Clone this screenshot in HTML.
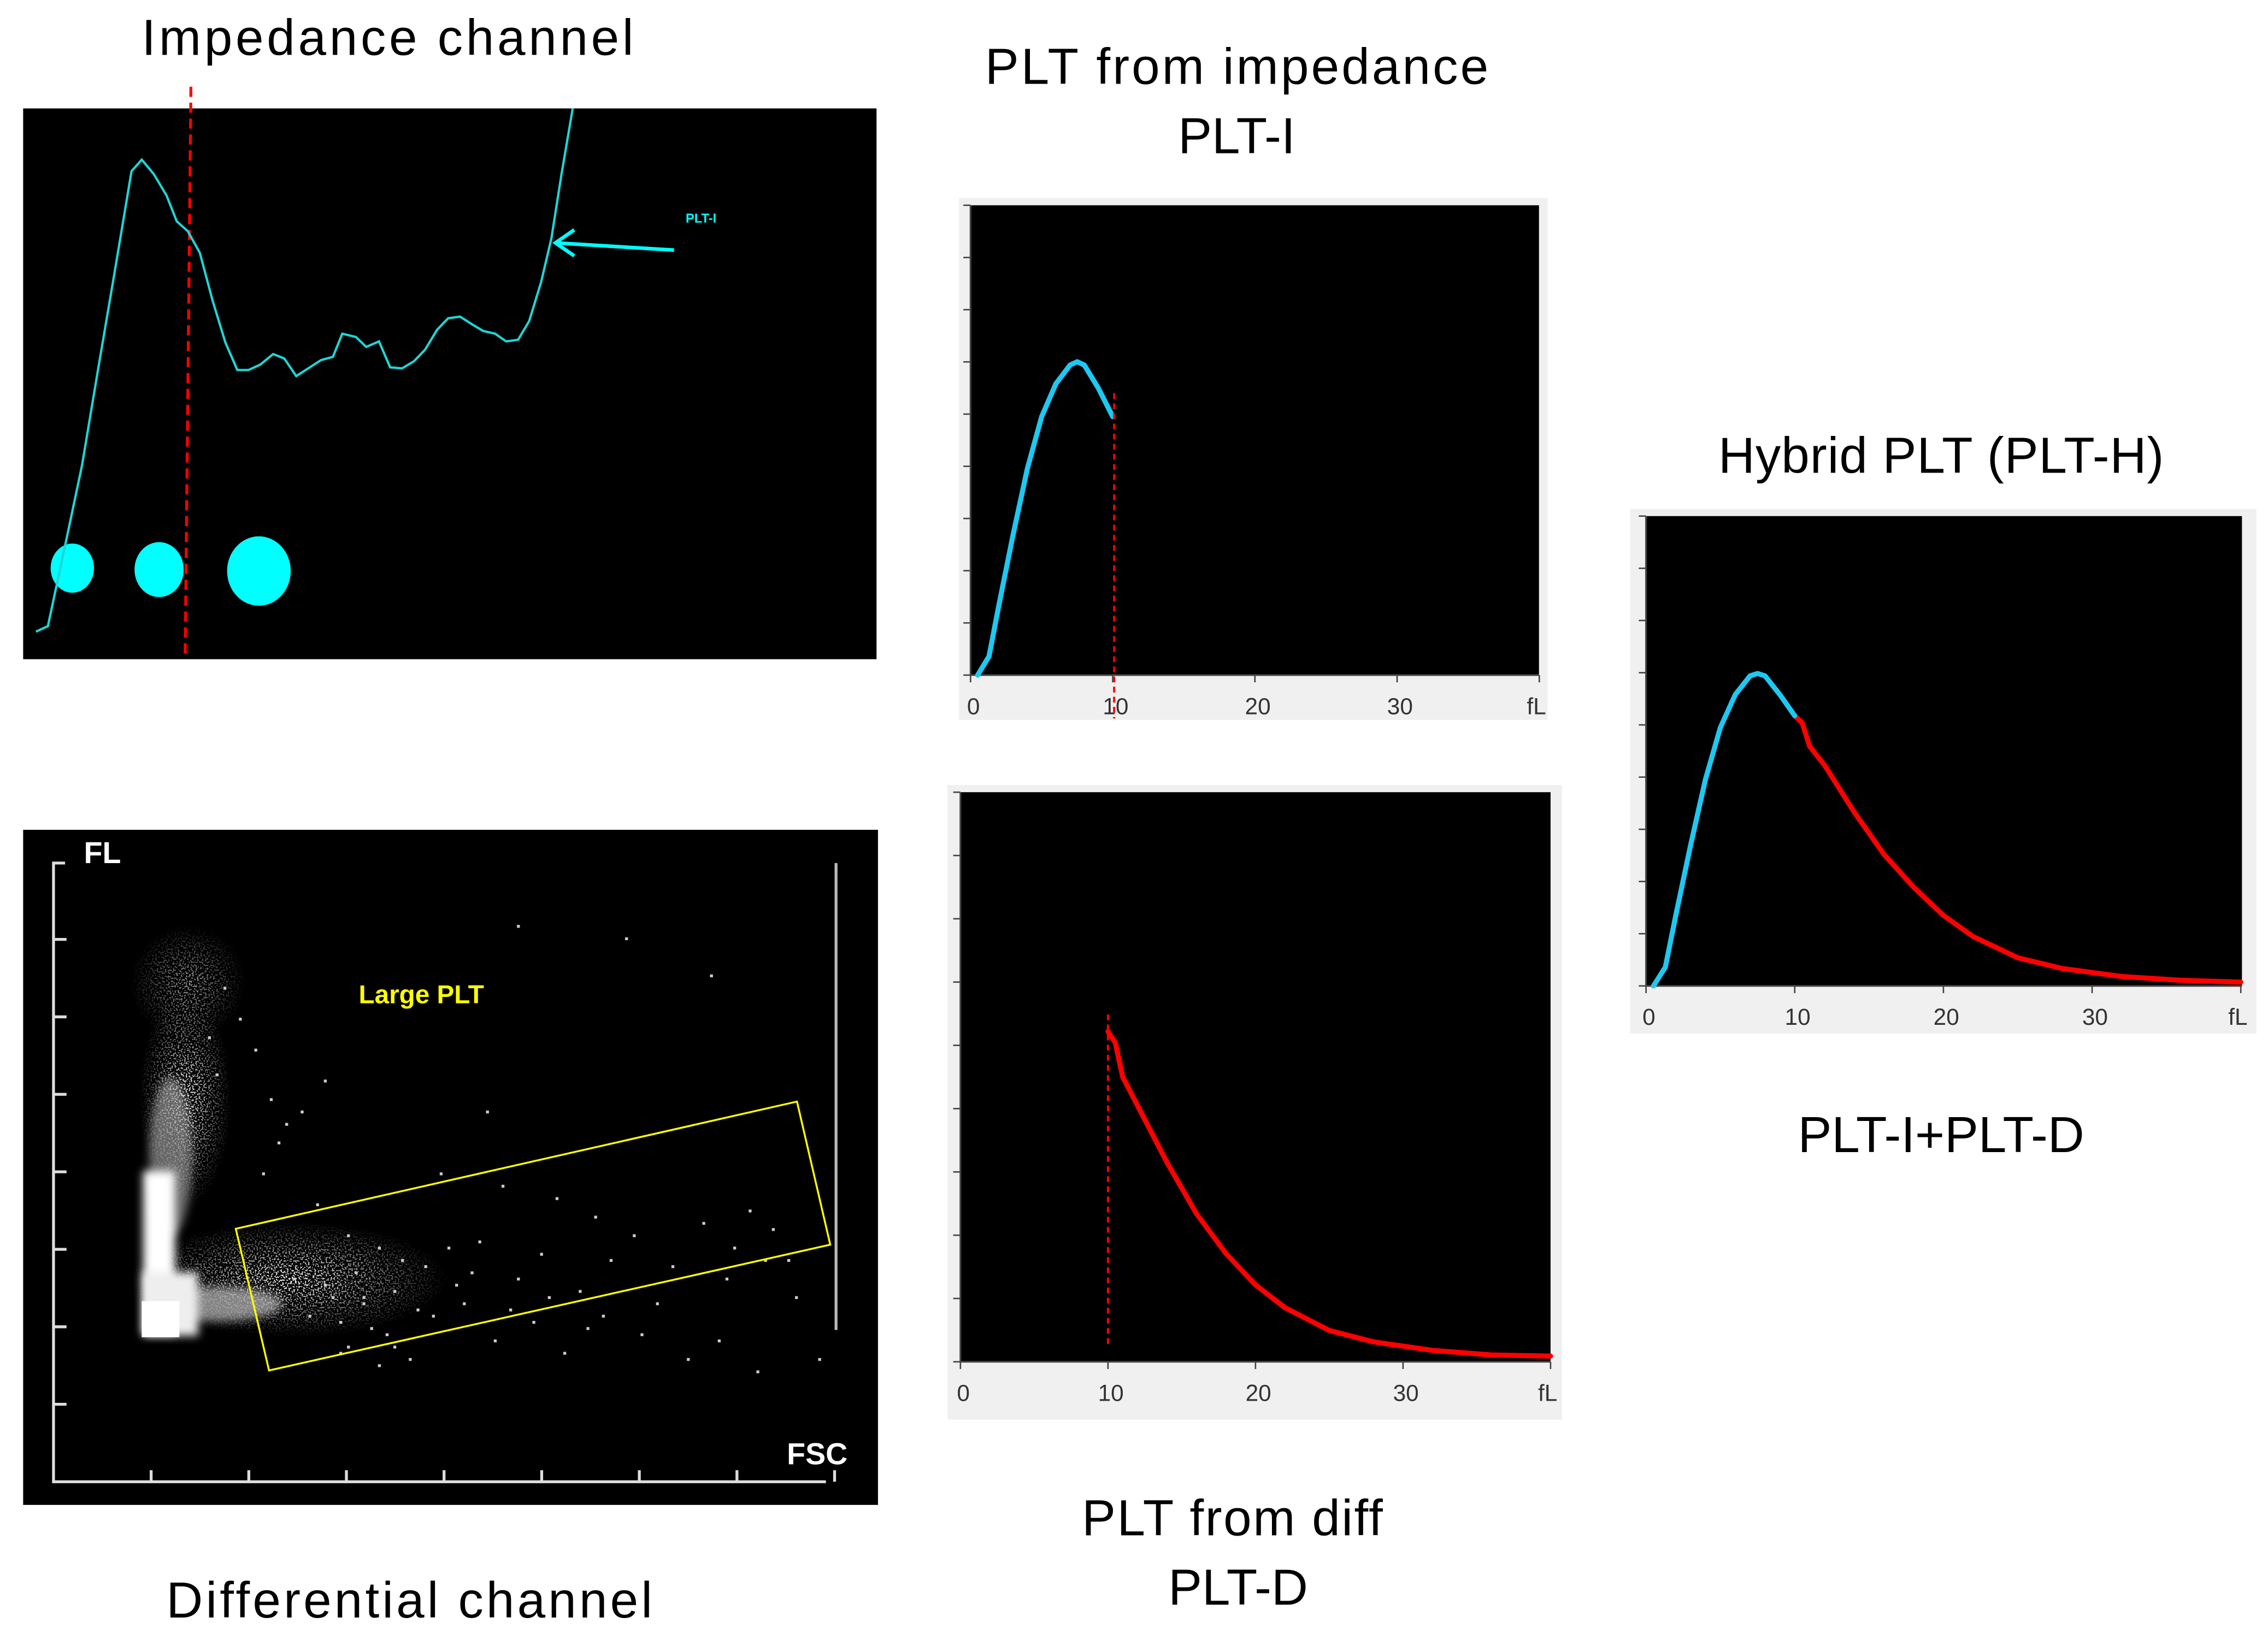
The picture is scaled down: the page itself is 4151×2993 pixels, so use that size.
<!DOCTYPE html>
<html><head><meta charset="utf-8"><style>
html,body{margin:0;padding:0;background:#fff;width:4151px;height:2993px;overflow:hidden}
svg{display:block}
text{font-family:"Liberation Sans",sans-serif}
</style></head><body>
<svg id="fig" width="4151" height="2993" viewBox="0 0 1568 1131" preserveAspectRatio="none" xmlns="http://www.w3.org/2000/svg">
<rect width="1568" height="1131" fill="#fff"/>
<text x="268" y="38" font-size="35" text-anchor="middle" fill="#000" textLength="340">Impedance channel</text>
<text x="855" y="58" font-size="35" text-anchor="middle" fill="#000" textLength="348">PLT from impedance</text>
<text x="855" y="106" font-size="35" text-anchor="middle" fill="#000">PLT-I</text>
<text x="1342" y="327" font-size="35" text-anchor="middle" fill="#000" textLength="308">Hybrid PLT (PLT-H)</text>
<text x="1342" y="797" font-size="35" text-anchor="middle" fill="#000" textLength="198">PLT-I+PLT-D</text>
<text x="852" y="1062" font-size="35" text-anchor="middle" fill="#000" textLength="208">PLT from diff</text>
<text x="856" y="1110" font-size="35" text-anchor="middle" fill="#000">PLT-D</text>
<text x="283" y="1119" font-size="35" text-anchor="middle" fill="#000" textLength="336">Differential channel</text>

<g id="imp">
<rect x="16" y="75" width="590" height="381" fill="#000"/>
<line x1="132" y1="60" x2="128" y2="456" stroke="#f00" stroke-width="2" stroke-dasharray="7,4"/>
<ellipse cx="50" cy="393" rx="15" ry="17" fill="#0ff"/>
<ellipse cx="110" cy="394" rx="17" ry="19" fill="#0ff"/>
<ellipse cx="179" cy="395" rx="22" ry="24" fill="#0ff"/>
<line x1="466" y1="173" x2="384" y2="168" stroke="#0ff" stroke-width="2.5"/>
<polyline points="397,159 384,168 397,177" fill="none" stroke="#0ff" stroke-width="2.5"/>
<text x="474" y="154" font-size="9" fill="#0ff" font-weight="bold">PLT-I</text>
</g>

<g>
<rect x="663" y="137" width="407" height="361" fill="#f0f0f0"/>
<rect x="671" y="142" width="393" height="325" fill="#000"/>
<g id="pltiAxis"></g>
</g>
<g>
<rect x="655" y="543" width="425" height="439" fill="#f0f0f0"/>
<rect x="664" y="548" width="408" height="394" fill="#000"/>
<g id="pltdAxis"></g>
</g>
<g>
<rect x="1127" y="352" width="433" height="363" fill="#f0f0f0"/>
<rect x="1138" y="357" width="412" height="325" fill="#000"/>
<g id="plthAxis"></g>
</g>

<g>
<rect x="16" y="574" width="591" height="467" fill="#000"/>
<defs>
<filter id="bl" x="-50%" y="-50%" width="200%" height="200%"><feGaussianBlur stdDeviation="3"/></filter>
<filter id="noise" x="0" y="0" width="100%" height="100%">
<feTurbulence type="fractalNoise" baseFrequency="0.9" numOctaves="1" seed="3" result="n"/>
<feColorMatrix in="n" type="matrix" values="0 0 0 0 1  0 0 0 0 1  0 0 0 0 1  0 0 0 9 -4.6" result="dots"/>
<feComposite in="dots" in2="SourceGraphic" operator="in"/>
</filter>
<radialGradient id="plume" cx="0.5" cy="0.5" r="0.5"><stop offset="0" stop-color="#fff"/><stop offset="1" stop-color="#fff" stop-opacity="0"/></radialGradient>
</defs>
<g>
<g filter="url(#noise)">
<ellipse cx="128" cy="760" rx="32" ry="75" fill="url(#plume)"/>
<ellipse cx="200" cy="885" rx="110" ry="40" fill="url(#plume)"/>
<ellipse cx="130" cy="680" rx="40" ry="40" fill="url(#plume)" opacity="0.6"/>
</g>
<ellipse cx="118" cy="800" rx="15" ry="55" fill="#aaa" opacity="0.6" filter="url(#bl)"/>
<ellipse cx="150" cy="902" rx="45" ry="12" fill="#bbb" opacity="0.7" filter="url(#bl)"/>
<rect x="99" y="810" width="22" height="113" fill="#fff" filter="url(#bl)"/>
<rect x="99" y="880" width="38" height="44" fill="#eee" filter="url(#bl)"/>
<rect x="98" y="900" width="26" height="25" fill="#fff"/>
</g>
<g id="dots"></g>
<polygon points="163,850 551,762 574,861 186,948" fill="none" stroke="#ff0" stroke-width="1.3"/>
<text x="248" y="694" font-size="18" font-weight="bold" fill="#ff0">Large PLT</text>
<g stroke="#ddd" stroke-width="2" fill="none">
<polyline points="45,597 37,597 37,1025 571,1025"/>
<line x1="578" y1="597" x2="578" y2="920" stroke="#bbb"/>
</g>
<g id="scatTicks" stroke="#ddd" stroke-width="2"></g>
<text x="58" y="597" font-size="21" font-weight="bold" fill="#fff">FL</text>
<text x="544" y="1013" font-size="21" font-weight="bold" fill="#fff">FSC</text>
</g>
</svg>
<script>
const pltiX = [0.5,1.3,2,3,4,5,6,7,7.5,8,9,10];
const pltiY = [0,0.04,0.15,0.30,0.44,0.55,0.62,0.66,0.667,0.66,0.61,0.55];
const pltdX = [10,10.5,11,12,14,16,18,20,22,25,28,32,36,40];
const pltdY = [0.58,0.56,0.50,0.45,0.35,0.26,0.19,0.135,0.095,0.055,0.035,0.02,0.012,0.01];
const plthImpX = [0.5,1.3,2,3,4,5,6,7,7.5,8,9,10];
const plthImpY = [0,0.04,0.15,0.30,0.44,0.55,0.62,0.66,0.665,0.66,0.62,0.575];
const plthDiffX = [10,10.5,11,12,14,16,18,20,22,25,28,32,36,40];
const plthDiffY = [0.575,0.56,0.51,0.47,0.37,0.28,0.21,0.15,0.105,0.06,0.037,0.02,0.012,0.008];
const xTickLabels = ["0","10","20","30","fL"];
// impedance channel trace: channel (px-like units 0..100 across panel) and relative height
const impX = [1.5,2.9,4.9,6.9,8.8,10.8,12.7,13.9,15.3,16.8,18,19.3,20.7,22.2,23.7,25.1,26.4,27.8,29.3,30.6,32,33.4,34.9,36.3,37.4,39,40.2,41.7,43,44.4,45.8,47.1,48.5,49.8,51.2,52.5,53.9,55.3,56.6,58,59.3,60.7,61.9,63.1,64.4];
const impY = [0.05,0.06,0.205,0.352,0.528,0.71,0.886,0.907,0.881,0.842,0.795,0.777,0.738,0.651,0.575,0.525,0.525,0.535,0.554,0.546,0.514,0.528,0.543,0.549,0.591,0.585,0.567,0.577,0.530,0.528,0.541,0.562,0.598,0.619,0.622,0.609,0.596,0.591,0.577,0.580,0.614,0.685,0.764,0.882,1.0];
const scatFSC = [38,42,45,40,48,52,55,60,63,68,72,75,80,84,88,90,93,95,70,65,58,50,47,44,41,39,36,34,33,31,37,43,46,53,57,62,66,71,76,82,86,91,96,29,32,35,26,27,30,24,28,22,20,21,45,99,60,74,85,56,35,40,44,49,54,59,64,69,78,87,92,38,42,51,37];
const scatFL = [40,38,36,30,35,32,39,33,37,31,36,40,35,42,38,44,41,36,43,46,48,50,28,22,25,34,30,45,27,33,26,24,20,29,23,26,21,27,24,20,23,18,30,55,60,65,70,50,58,75,62,80,72,66,78,20,90,88,82,60,32,29,31,27,34,28,30,25,29,33,36,22,19,38,21];
const NS='http://www.w3.org/2000/svg';
function mk(tag, attrs, parent){const e=document.createElementNS(NS,tag);for(const k in attrs)e.setAttribute(k,attrs[k]);parent.appendChild(e);return e;}

function histo(axisG, x0,y0,x1,y1, pxPerFl, series, name){
  const sx=v=>x0+v*pxPerFl, sy=v=>y1-v*(y1-y0);
  mk('line',{x1:x0,y1:y1,x2:x1,y2:y1,stroke:'#444','stroke-width':1.2},axisG);
  mk('line',{x1:x0,y1:y0,x2:x0,y2:y1,stroke:'#444','stroke-width':1.2},axisG);
  const n=9;
  for(let i=0;i<=n;i++){const y=y1-i*(y1-y0)/n;mk('line',{x1:x0-5,y1:y,x2:x0,y2:y,stroke:'#444','stroke-width':1},axisG);}
  xTickLabels.forEach((lab,i)=>{const x=sx(i*10);
    mk('line',{x1:x,y1:y1,x2:x,y2:y1+5,stroke:'#444','stroke-width':1},axisG);
    const t=mk('text',{x:x+(lab==='fL'?-2:2),y:y1+27,'font-size':16,'text-anchor':'middle',fill:'#333'},axisG);
    
    
    t.textContent=lab;});
  series.forEach(s=>{
    const p=mk('polyline',{points:s.x.map((v,i)=>sx(v)+','+sy(s.y[i])).join(' '),fill:'none',stroke:s.c,'stroke-width':3.5,'stroke-linejoin':'round','stroke-linecap':'round'},axisG);
    
    
  });
  return {sx,sy};
}
const a1=histo(document.getElementById('pltiAxis'),671,142,1064,467,9.83,[{x:pltiX,y:pltiY,c:'#1ec8f0',n:'plt-i-curve'}],'plt-i');
const dl1=mk('line',{x1:a1.sx(10.1),y1:a1.sy(0.6),x2:a1.sx(10.1),y2:497,stroke:'#f00','stroke-width':1.5,'stroke-dasharray':'4,3'},document.getElementById('pltiAxis'));


const a2=histo(document.getElementById('pltdAxis'),664,548,1072,942,10.2,[{x:pltdX,y:pltdY,c:'#f00',n:'plt-d-curve'}],'plt-d');
const dl2=mk('line',{x1:a2.sx(10),y1:a2.sy(0.61),x2:a2.sx(10),y2:932,stroke:'#f00','stroke-width':1.5,'stroke-dasharray':'4,3'},document.getElementById('pltdAxis'));


histo(document.getElementById('plthAxis'),1138,357,1550,682,10.28,[{x:plthDiffX,y:plthDiffY,c:'#f00',n:'plt-h-diff-curve'},{x:plthImpX,y:plthImpY,c:'#1ec8f0',n:'plt-h-imp-curve'}],'plt-h');

(function(){
  const g=document.getElementById('imp');
  const sx=v=>16+v*590/100, top=75, bot=456;
  const pts=impY.map((v,i)=>sx(impX[i])+','+(bot-v*(bot-top))).join(' ');
  const p=mk('polyline',{points:pts,fill:'none',stroke:'#1ed6d6','stroke-width':1.6},g);
  
  
})();

(function(){
  const g=document.getElementById('dots');
  const sx=v=>37+v*(571-37)/100, sy=v=>1025-v*(1025-597)/100;
  scatFSC.forEach((v,i)=>{
    const c=mk('rect',{x:sx(v),y:sy(scatFL[i]),width:2,height:2,fill:'#ccc'},g);
    
    
  });
  const t=document.getElementById('scatTicks');
  for(let i=1;i<=7;i++){const y=1025-i*53.6;mk('line',{x1:37,y1:y,x2:46,y2:y},t);}
  for(let i=1;i<=8;i++){const x=37+i*67.5;mk('line',{x1:x,y1:1025,x2:x,y2:1017},t);}
})();
</script>
</body></html>
